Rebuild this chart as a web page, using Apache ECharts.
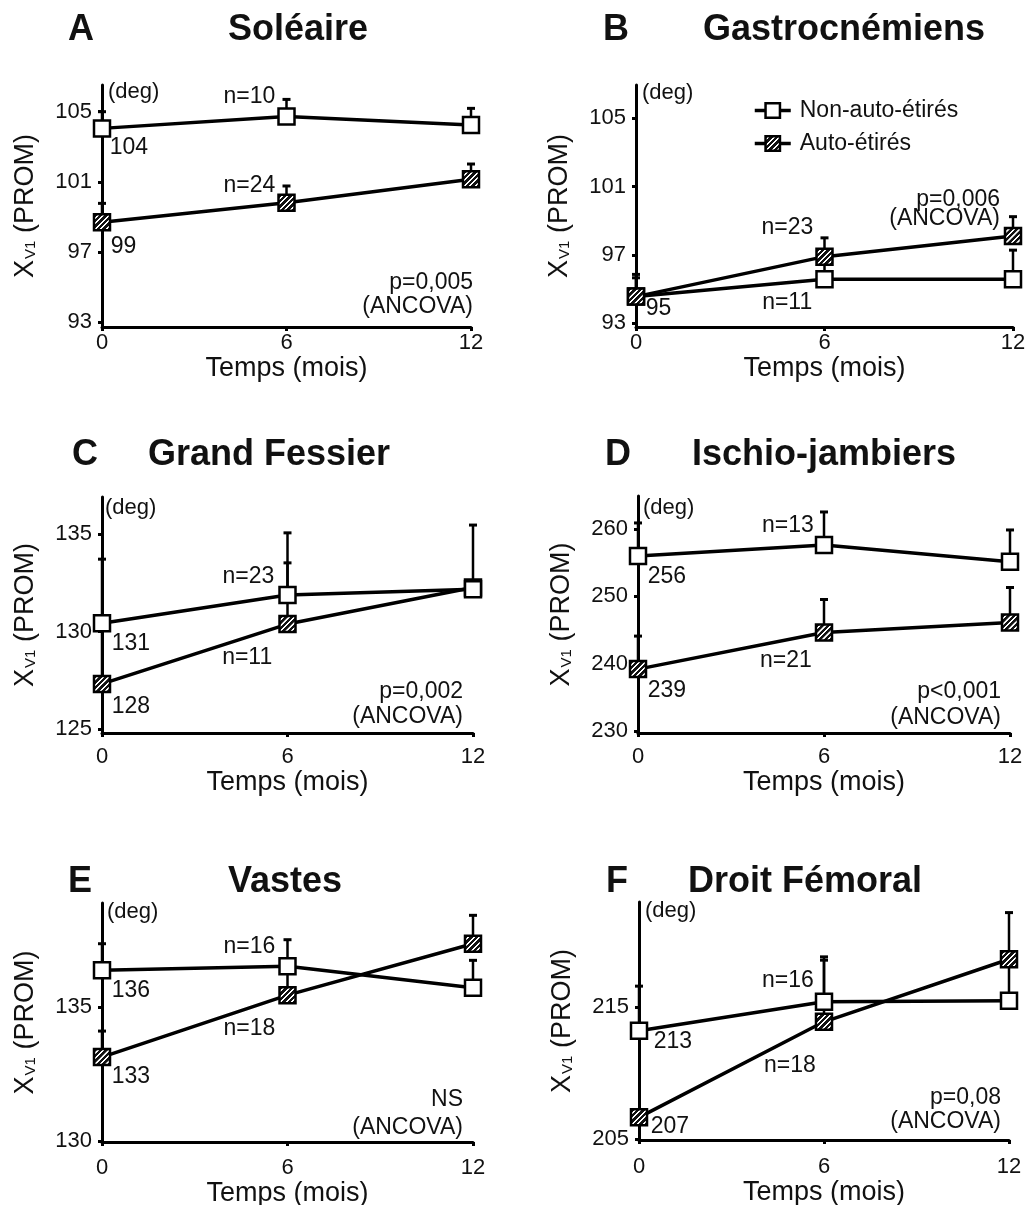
<!DOCTYPE html>
<html>
<head>
<meta charset="utf-8">
<title>Xv1 (PROM)</title>
<script src="https://cdn.jsdelivr.net/npm/echarts@6/dist/echarts.min.js"></script>
<style>
html, body { margin: 0; padding: 0; background: #fff; }
#chart { width: 1027px; height: 1205px; }
</style>
</head>
<body>
<div id="chart"></div>
<script>
// time points (months)
const months = [0, 6, 12];

// A - Soléaire
const soleaireNon = [104.05, 104.72, 104.24];
const soleaireNonErr = [0.95, 0.98, 0.95];
const soleaireAuto = [98.7, 99.82, 101.15];
const soleaireAutoErr = [1.08, 0.95, 0.87];
const soleaireTicks = [93, 97, 101, 105];

// B - Gastrocnémiens
const gastroNon = [94.56, 95.58, 95.58];
const gastroNonErr = [1.1, 1.2, 1.7];
const gastroAuto = [94.56, 96.9, 98.11];
const gastroAutoErr = [1.3, 1.1, 1.13];
const gastroTicks = [93, 97, 101, 105];

// C - Grand Fessier
const fessierNon = [130.43, 131.88, 132.17];
const fessierNonErr = [0.3, 1.65, 0.3];
const fessierAuto = [127.32, 130.39, 132.27];
const fessierAutoErr = [6.4, 4.68, 3.2];
const fessierTicks = [125, 130, 135];

// D - Ischio-jambiers
const ischioNon = [256.0, 257.63, 255.16];
const ischioNonErr = [4.9, 4.9, 4.7];
const ischioAuto = [239.21, 244.64, 246.12];
const ischioAutoErr = [4.9, 4.9, 5.2];
const ischioTicks = [230, 240, 250, 260];

// E - Vastes
const vastesNon = [136.37, 136.52, 135.72];
const vastesNonErr = [0.99, 0.99, 1.02];
const vastesAuto = [133.13, 135.44, 137.36];
const vastesAutoErr = [0.97, 1.0, 1.06];
const vastesTicks = [130, 135];

// F - Droit Fémoral
const droitNon = [213.19, 215.38, 215.45];
const droitNonErr = [3.37, 3.39, 3.1];
const droitAuto = [206.66, 213.87, 218.59];
const droitAutoErr = [0.3, 4.65, 3.52];
const droitTicks = [205, 215];

const FONT = '"Liberation Sans", Arial, Helvetica, sans-serif';
const INK = '#111';
const SYMBOL = 16;

const panels = [
	{ letter: "A", title: "Soléaire", non: soleaireNon, nonErr: soleaireNonErr, auto: soleaireAuto, autoErr: soleaireAutoErr, ticks: soleaireTicks,
		start: ["104", "99"], n: ["n=10", "n=24"], p: "p=0,005" },
	{ letter: "B", title: "Gastrocnémiens", non: gastroNon, nonErr: gastroNonErr, auto: gastroAuto, autoErr: gastroAutoErr, ticks: gastroTicks,
		start: ["", "95"], n: ["n=11", "n=23"], p: "p=0,006" },
	{ letter: "C", title: "Grand Fessier", non: fessierNon, nonErr: fessierNonErr, auto: fessierAuto, autoErr: fessierAutoErr, ticks: fessierTicks,
		start: ["131", "128"], n: ["n=23", "n=11"], p: "p=0,002" },
	{ letter: "D", title: "Ischio-jambiers", non: ischioNon, nonErr: ischioNonErr, auto: ischioAuto, autoErr: ischioAutoErr, ticks: ischioTicks,
		start: ["256", "239"], n: ["n=13", "n=21"], p: "p<0,001" },
	{ letter: "E", title: "Vastes", non: vastesNon, nonErr: vastesNonErr, auto: vastesAuto, autoErr: vastesAutoErr, ticks: vastesTicks,
		start: ["136", "133"], n: ["n=16", "n=18"], p: "NS" },
	{ letter: "F", title: "Droit Fémoral", non: droitNon, nonErr: droitNonErr, auto: droitAuto, autoErr: droitAutoErr, ticks: droitTicks,
		start: ["213", "207"], n: ["n=16", "n=18"], p: "p=0,08" },
];

// layout of each panel (pixels) - box = [left, top, right, bottom]
const layout = [
	{ box: [102, 85, 471, 327], yMin: 92.74, yMax: 106.52, lm: 5, ng: 27, autoTop: true,
		startOff: [[9, 21], [10, 26]], nOff: [[-10, -19], [-10, -16]], pPos: [473, 283, 307], deg: [108, 92], head: [68, 228, 30] },
	{ box: [636, 85, 1013, 327], yMin: 92.78, yMax: 106.95, lm: 5, ng: 27, autoTop: true,
		startOff: [[11, 13], [11, 13]], nOff: [[-11, 25], [-10, -28]], pPos: [1000, 200, 219], deg: [642, 93], head: [603, 703, 30] },
	{ box: [102, 497, 473, 733], yMin: 124.8, yMax: 136.91, lm: 13, ng: 36, autoTop: false,
		startOff: [[11, 22], [11, 24]], nOff: [[-12, -17], [-14, 35]], pPos: [463, 692, 717], deg: [105, 508], head: [72, 148, 455] },
	{ box: [638, 496, 1010, 733], yMin: 229.73, yMax: 264.9, lm: 13, ng: 36, autoTop: true,
		startOff: [[11, 22], [11, 23]], nOff: [[-9, -18], [-11, 29]], pPos: [1001, 692, 718], deg: [643, 508], head: [605, 692, 455] },
	{ box: [102, 903, 473, 1142], yMin: 129.96, yMax: 138.88, lm: 15, ng: 35, autoTop: true,
		startOff: [[11, 22], [11, 21]], nOff: [[-11, -18], [-11, 35]], pPos: [463, 1100, 1128], deg: [107, 912], head: [68, 228, 882] },
	{ box: [639, 902, 1009, 1140], yMin: 204.95, yMax: 222.91, lm: 16, ng: 35, autoTop: true,
		startOff: [[16, 12], [13, 11]], nOff: [[-9, -20], [-7, 45]], pPos: [1001, 1098, 1122], deg: [645, 911], head: [606, 688, 882] },
];

// hatched fill for the "Auto-étirés" squares: one tile of 60 px, scaled down
function hatchCanvas() {
	const c = document.createElement("canvas");
	c.width = 60;
	c.height = 60;
	const g = c.getContext("2d");
	g.fillStyle = "#111";
	g.fillRect(0, 0, 60, 60);
	g.strokeStyle = "#fff";
	g.lineWidth = 16;
	g.beginPath();
	g.moveTo(-10, 10); g.lineTo(10, -10);
	g.moveTo(0, 60); g.lineTo(60, 0);
	g.moveTo(50, 70); g.lineTo(70, 50);
	g.stroke();
	return c;
}
const hatchTile = hatchCanvas();
// symbols are drawn in a unit box scaled by size / 2, so undo that scale
const hatch = { image: hatchTile, repeat: "repeat", scaleX: 5.5 / 60 / (SYMBOL / 2), scaleY: 5.5 / 60 / (SYMBOL / 2) };
const hatchLegend = { image: hatchTile, repeat: "repeat", scaleX: 5.5 / 60, scaleY: 5.5 / 60 };

function renderErrorBar(params, api) {
	const base = api.coord([api.value(0), api.value(1)]);
	const top = api.coord([api.value(0), api.value(2)]);
	return {
		type: "group",
		children: [
			{ type: "line", shape: { x1: base[0], y1: base[1], x2: top[0], y2: top[1] }, style: { stroke: "#000", lineWidth: 2.5 } },
			{ type: "line", shape: { x1: top[0] - 4, y1: top[1], x2: top[0] + 4, y2: top[1] }, style: { stroke: "#000", lineWidth: 3 } },
		],
	};
}

function pointLabel(text, off, align) {
	return {
		show: !!text,
		formatter: text,
		position: [off[0] + SYMBOL / 2, off[1] + SYMBOL / 2],
		align: align,
		verticalAlign: "middle",
		fontSize: 23,
		fontFamily: FONT,
		color: INK,
	};
}

const option = {
	animation: false,
	backgroundColor: "#fff",
	textStyle: { fontFamily: FONT, color: INK },
	legend: {
		left: 753,
		top: 99,
		orient: "vertical",
		padding: 0,
		itemWidth: 36,
		itemHeight: 18,
		itemGap: 10,
		lineStyle: { color: "#000", width: 3.5 },
		itemStyle: { borderColor: "#000", borderWidth: 2.5 },
		textStyle: { fontSize: 23, fontFamily: FONT, color: INK, lineHeight: 18, padding: [0, 0, 0, 4] },
		data: [
			{ name: "Non-auto-étirés", itemStyle: { color: "#fff" } },
			{ name: "Auto-étirés", itemStyle: { color: hatchLegend } },
		],
	},
	grid: [],
	xAxis: [],
	yAxis: [],
	series: [],
	graphic: [],
};

panels.forEach((pan, i) => {
	const lay = layout[i];
	const [x0, y0, x1, y1] = lay.box;

	option.grid.push({ left: x0, top: y0, width: x1 - x0, height: y1 - y0, outerBoundsMode: "none" });

	option.xAxis.push({
		gridIndex: i,
		type: "value",
		min: 0,
		max: 12,
		interval: 6,
		name: "Temps (mois)",
		nameLocation: "middle",
		nameGap: lay.ng,
		nameTextStyle: { fontSize: 27, fontFamily: FONT, color: INK },
		axisLine: { lineStyle: { color: "#000", width: 3 } },
		axisTick: { length: 4, lineStyle: { color: "#000", width: 3 } },
		axisLabel: { fontSize: 22, fontFamily: FONT, color: INK, margin: lay.lm },
		splitLine: { show: false },
	});

	option.yAxis.push({
		gridIndex: i,
		type: "value",
		min: lay.yMin,
		max: lay.yMax,
		name: "{x|X}{s|V1}{p| (PROM)}",
		nameLocation: "middle",
		nameGap: 63,
		nameTextStyle: {
			color: INK,
			fontFamily: FONT,
			rich: {
				x: { fontSize: 27, fontFamily: FONT, color: INK },
				s: { fontSize: 15, fontFamily: FONT, color: INK, verticalAlign: "bottom", padding: [0, 0, 1, 1] },
				p: { fontSize: 27, fontFamily: FONT, color: INK },
			},
		},
		axisLine: { show: true, lineStyle: { color: "#000", width: 3 } },
		axisTick: { length: 4, customValues: pan.ticks, lineStyle: { color: "#000", width: 3 } },
		axisLabel: { fontSize: 22, fontFamily: FONT, color: INK, margin: 10, customValues: pan.ticks },
		splitLine: { show: false },
	});

	const groups = [
		{ name: "Non-auto-étirés", vals: pan.non, errs: pan.nonErr, fill: "#fff", k: 0 },
		{ name: "Auto-étirés", vals: pan.auto, errs: pan.autoErr, fill: hatch, k: 1 },
	];

	groups.forEach(gr => {
		const onTop = gr.k === 1 ? lay.autoTop : !lay.autoTop;
		option.series.push({
			type: "custom",
			name: gr.name + " SD",
			xAxisIndex: i,
			yAxisIndex: i,
			z: 1,
			clip: false,
			renderItem: renderErrorBar,
			encode: { x: 0, y: [1, 2] },
			data: months.map((m, j) => [m, gr.vals[j], gr.vals[j] + gr.errs[j]]),
		});
		option.series.push({
			type: "line",
			name: gr.name,
			xAxisIndex: i,
			yAxisIndex: i,
			z: onTop ? 4 : 3,
			clip: false,
			symbol: "rect",
			symbolSize: SYMBOL,
			lineStyle: { color: "#000", width: 3.5 },
			itemStyle: { color: gr.fill, borderColor: "#000", borderWidth: 2.5 },
			emphasis: { disabled: true },
			data: months.map((m, j) => {
				const item = { value: [m, gr.vals[j]] };
				if (j === 0) item.label = pointLabel(pan.start[gr.k], lay.startOff[gr.k], "left");
				if (j === 1) item.label = pointLabel(pan.n[gr.k], lay.nOff[gr.k], "right");
				return item;
			}),
		});
	});

	const text = (t, x, y, size, align, bold) => ({
		type: "text",
		x: x,
		y: y,
		silent: true,
		style: {
			text: t,
			fill: INK,
			font: (bold ? "bold " : "") + size + "px " + FONT,
			textAlign: align,
			textVerticalAlign: "middle",
		},
	});

	option.graphic.push(text(pan.letter, lay.head[0], lay.head[2], 36, "left", true));
	option.graphic.push(text(pan.title, lay.head[1], lay.head[2], 36, "left", true));
	option.graphic.push(text("(deg)", lay.deg[0], lay.deg[1], 22, "left", false));
	option.graphic.push(text(pan.p, lay.pPos[0], lay.pPos[1], 23, "right", false));
	option.graphic.push(text("(ANCOVA)", lay.pPos[0], lay.pPos[2], 23, "right", false));
});

const myChart = echarts.init(document.getElementById("chart"));
myChart.setOption(option);
</script>
</body>
</html>
